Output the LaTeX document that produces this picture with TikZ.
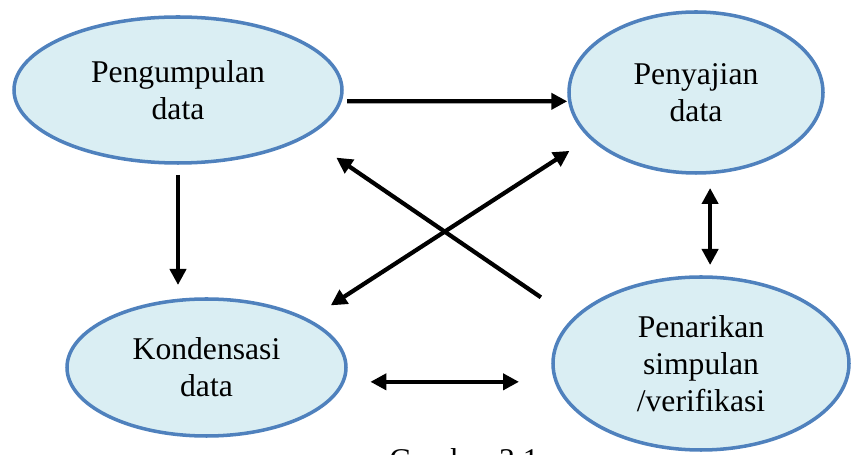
\documentclass[tikz,border=0pt]{standalone}
\usepackage{fontspec}
\setmainfont{Liberation Serif}
\usetikzlibrary{arrows.meta,positioning,shapes.geometric}
\definecolor{ringblue}{HTML}{4F81BD}
\definecolor{paleaqua}{HTML}{DAEEF3}
\tikzset{oval/.style={ellipse,draw=ringblue,fill=paleaqua,line width=2pt,inner sep=0pt,outer sep=0pt,align=center,font=\fontsize{18}{21}\selectfont},arr/.style={-{Triangle[length=3.2mm,width=3.2mm]},line width=2.4pt},darr/.style={arr,{Triangle[length=3.2mm,width=3.2mm]}-{Triangle[length=3.2mm,width=3.2mm]}}}
\begin{document}
\begin{tikzpicture}
\clip (0,0) rectangle (17.02,-9.1);
\node[oval,minimum width=65.6mm,minimum height=29.2mm] (kum) at (3.56,-1.8) {Pengumpulan\\data};
\node[oval,minimum width=50.8mm,minimum height=32.2mm,right=45.4mm of kum,yshift=-0.5mm] (saji) {Penyajian\\data};
\node[oval,minimum width=55.8mm,minimum height=27.4mm,below=27.2mm of kum,xshift=5.7mm] (kond) {Kondensasi\\data};
\node[oval,minimum width=59.2mm,minimum height=34.6mm,right=41.4mm of kond,yshift=0.8mm] (tarik) {Penarikan\\simpulan\\/verifikasi};
\node[font=\fontsize{18}{21}\selectfont,anchor=base] (gbr) at (9.28,-9.42) {Gambar 3.1};
\draw[arr,shorten <=1.4mm,shorten >=0.5mm] (kum.-4)--(saji.184);\draw[arr,shorten <=2.4mm,shorten >=2.8mm] (kum.south)--(kum.south |- kond.north);
\draw[arr,shorten <=7.9mm,shorten >=7.6mm] (tarik.161)--(kum.-20);\draw[darr,shorten <=5.5mm,shorten >=5mm] (kond.25)--(saji.203);
\draw[darr,shorten <=3.1mm,shorten >=2.4mm] (saji.-80)--(saji.-80 |- tarik.north);\draw[darr,shorten <=5.5mm,shorten >=6.8mm] (kond.-6.5)--(kond.-6.5 -| tarik.west);
\end{tikzpicture}
\end{document}
